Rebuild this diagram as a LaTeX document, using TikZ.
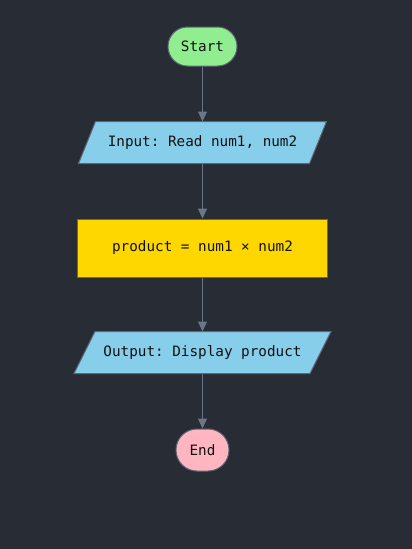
\documentclass[tikz,border=0pt]{standalone}
\usepackage{fontspec}
\setmonofont{DejaVu Sans Mono}
\usetikzlibrary{arrows.meta,calc}
\definecolor{bg}{HTML}{282C34}
\definecolor{edge}{HTML}{6B7689}
\definecolor{strokec}{HTML}{5F6675}
\definecolor{startc}{HTML}{90EE90}
\definecolor{ioc}{HTML}{87CEEB}
\definecolor{procc}{HTML}{FFD700}
\definecolor{endc}{HTML}{FFB6C1}
\definecolor{txt}{HTML}{111111}
\tikzset{
  base/.style={font=\ttfamily\fontsize{14.3}{17}\selectfont, text=txt, inner sep=0pt, line width=1pt},
  terminal/.style={base, draw=strokec, rectangle, rounded corners=#1},
  iobox/.style={base, rectangle},
  procbox/.style={base, draw=strokec, fill=procc, rectangle},
  flow/.style={draw=edge, line width=1pt, -{Triangle[length=10pt,width=9pt]}},
  para/.style={draw=strokec, fill=ioc, line width=1pt}
}
\begin{document}
\begin{tikzpicture}[x=1pt,y=-1pt]
\fill[bg] (0,0) rectangle (412,549);
\useasboundingbox (0,0) rectangle (412,549);
% shapes
\node[terminal=19.5pt, fill=startc, minimum width=69pt, minimum height=39pt] (start) at (202.5,46.5) {};
\node[iobox, minimum width=230pt, minimum height=41pt] (inp) at (202.5,142.5) {};
\fill[para] ($(inp.north west)+(8.5,0)$) -- ($(inp.north east)+(8.5,0)$) -- ($(inp.south east)+(-8.5,0)$) -- ($(inp.south west)+(-8.5,0)$) -- cycle;
\node[procbox, minimum width=250pt, minimum height=58pt] (prod) at (202.5,248) {};
\node[iobox, minimum width=235pt, minimum height=41pt] (out) at (202.5,352.5) {};
\fill[para] ($(out.north west)+(10.5,0)$) -- ($(out.north east)+(10.5,0)$) -- ($(out.south east)+(-10.5,0)$) -- ($(out.south west)+(-10.5,0)$) -- cycle;
\node[terminal=21pt, fill=endc, minimum width=53pt, minimum height=42pt] (end) at (202.5,450) {};
% texts
\node[base] at (start) {Start};
\node[base] at (inp) {Input: Read num1, num2};
\node[base] at (prod) {product = num1 × num2};
\node[base] at (out) {Output: Display product};
\node[base] at (end) {End};
% connectors
\draw[flow] (start.south) -- (inp.north);
\draw[flow] (inp.south) -- (prod.north);
\draw[flow] (prod.south) -- (out.north);
\draw[flow] (out.south) -- (end.north);
\end{tikzpicture}
\end{document}
